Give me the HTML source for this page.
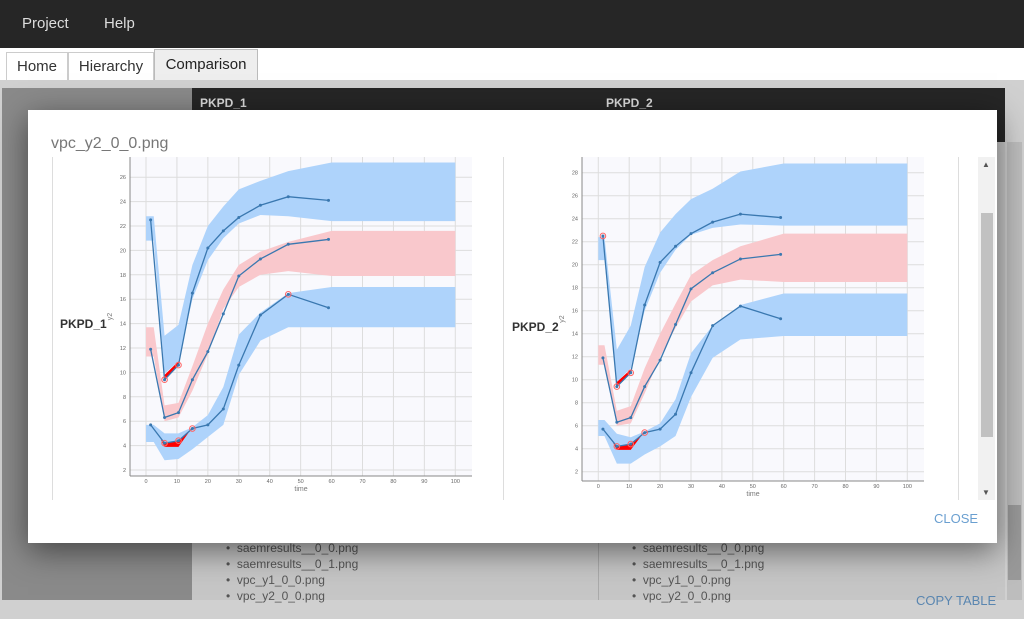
<!DOCTYPE html>
<html><head><meta charset="utf-8"><style>
body{margin:0;width:1024px;height:619px;overflow:hidden;font-family:"Liberation Sans",sans-serif;position:relative;background:#fff}
.a{position:absolute}
</style></head><body>
<div class="a" style="left:0;top:0;width:1024px;height:48px;background:#262626"></div>
<div class="a" style="left:22px;top:15px;color:#ddd;font-size:15px">Project</div>
<div class="a" style="left:104px;top:15px;color:#ddd;font-size:15px">Help</div>
<div class="a" style="left:6px;top:52px;width:60px;height:28px;border:1px solid #ccc;border-bottom:none;background:#fff;font-size:15px;color:#333;text-align:center;line-height:28px">Home</div>
<div class="a" style="left:68px;top:52px;width:84px;height:28px;border:1px solid #ccc;border-bottom:none;background:#fff;font-size:15px;color:#333;text-align:center;line-height:28px">Hierarchy</div>
<div class="a" style="left:154px;top:49px;width:102px;height:31px;border:1px solid #bbb;border-bottom:none;background:#eee;font-size:15px;color:#222;text-align:center;line-height:30px">Comparison</div>
<div class="a" style="left:0;top:80px;width:1024px;height:539px;background:#d0d0d0"></div>
<div class="a" style="left:2px;top:88px;width:190px;height:512px;background:#8a8a8a"></div>
<div class="a" style="left:192px;top:88px;width:813px;height:54px;background:#262626"></div>
<div class="a" style="left:200px;top:96px;color:#ddd;font-size:12px;font-weight:bold">PKPD_1</div>
<div class="a" style="left:606px;top:96px;color:#ddd;font-size:12px;font-weight:bold">PKPD_2</div>
<div class="a" style="left:192px;top:142px;width:813px;height:458px;background:#c6c6c6"></div>
<div class="a" style="left:598px;top:142px;width:1px;height:458px;background:#aaa"></div>
<div class="a" style="left:1007px;top:142px;width:15px;height:458px;background:#bdbdbd"></div>
<div class="a" style="left:1008px;top:505px;width:13px;height:75px;background:#999"></div>
<div class="a" style="left:226px;top:540px;color:#555;font-size:12px;line-height:16px">• &nbsp;saemresults__0_0.png<br>• &nbsp;saemresults__0_1.png<br>• &nbsp;vpc_y1_0_0.png<br>• &nbsp;vpc_y2_0_0.png</div>
<div class="a" style="left:632px;top:540px;color:#555;font-size:12px;line-height:16px">• &nbsp;saemresults__0_0.png<br>• &nbsp;saemresults__0_1.png<br>• &nbsp;vpc_y1_0_0.png<br>• &nbsp;vpc_y2_0_0.png</div>
<div class="a" style="left:916px;top:593px;color:#5a86b0;font-size:13px">COPY TABLE</div>
<div class="a" style="left:28px;top:110px;width:969px;height:433px;background:#fff;box-shadow:0 8px 30px rgba(0,0,0,.5)"></div>
<div class="a" style="left:51px;top:135px;color:#777;font-size:16px">vpc_y2_0_0.png</div>
<div class="a" style="left:52px;top:157px;width:1px;height:343px;background:#ddd"></div>
<div class="a" style="left:503px;top:157px;width:1px;height:343px;background:#ddd"></div>
<div class="a" style="left:958px;top:157px;width:1px;height:343px;background:#ddd"></div>
<div class="a" style="left:978px;top:157px;width:17px;height:343px;background:#f1f1f1"></div>
<div class="a" style="left:981px;top:213px;width:12px;height:224px;background:#c1c1c1"></div>
<div class="a" style="left:982px;top:160px;font-size:8px;color:#555">▲</div>
<div class="a" style="left:982px;top:488px;font-size:8px;color:#555">▼</div>
<div class="a" style="left:934px;top:511px;color:#6a9fd0;font-size:13px">CLOSE</div>
<div class="a" style="left:60px;top:317px;color:#333;font-size:12px;font-weight:bold">PKPD_1</div>
<div class="a" style="left:512px;top:320px;color:#333;font-size:12px;font-weight:bold">PKPD_2</div>
<svg class="a" style="left:0;top:0" width="1024" height="619" id="s"></svg>
<script>
var up=[[0,20.8,22.8],[2.5,20.8,22.8],[6,9.9,13],[10.5,10.9,13.9],[15,16,18.8],[20,19.2,22],[25,21,23.6],[30,22.2,25],[37,22.9,25.7],[46,22.8,26.5],[60,22.4,27.2],[100,22.4,27.2]];
var md=[[0,11.3,13.7],[2.5,11.3,13.7],[6,6,7.3],[10.5,6.3,7.5],[15,8.5,10.5],[20,11.5,14],[25,15.2,16.8],[30,17,18.8],[37,18,19.9],[46,18.3,20.7],[60,17.9,21.6],[100,17.9,21.6]];
var lo=[[0,4.3,5.7],[2.5,4.3,5.7],[6,2.8,5],[10.5,2.9,5],[15,3.7,5.5],[20,4.7,6.5],[25,5.7,8.8],[30,9.8,13.1],[37,12.6,14.9],[46,13.7,16.5],[60,13.7,17],[100,13.7,17]];
var up2=[[0,20.4,22.4],[2,20.4,22.4],[6,9.8,12.6],[10.5,11,14.7],[15,16,19.8],[20,19.3,22.8],[25,21.3,24.4],[30,22.6,25.7],[37,23.2,26.6],[46,23.5,28.1],[60,23.4,28.8],[100,23.4,28.8]];
var md2=[[0,11.3,13],[2,11.3,13],[6,6,7.3],[10.5,6.2,7.7],[15,8.8,11],[20,12,14],[25,14.5,16.6],[30,16.8,19.1],[37,18.2,20.4],[46,18.7,21.6],[60,18.5,22.7],[100,18.5,22.7]];
var lo2=[[0,5.1,6.5],[2,5.1,6.5],[6,2.7,5.3],[10.5,2.7,5],[15,3.5,5.5],[20,4.2,6.2],[25,5.1,8.3],[30,8.5,12.3],[37,11.9,14.7],[46,13.5,16.5],[60,13.8,17.5],[100,13.8,17.5]];
var T=[1.5,6,10.5,15,20,25,30,37,46,59];
var o1=[22.5,9.4,10.6,16.5,20.2,21.6,22.7,23.7,24.4,24.1],o2=[11.9,6.3,6.7,9.4,11.7,14.8,17.9,19.3,20.5,20.9],o3=[5.7,4.2,4.4,5.4,5.7,7,10.6,14.7,16.4,15.3];
var h='';
function chart(x0,sx,yb,vb,sy,L,Tp,R,B,ymin,ymax,lab,U,M,Lo){
 var X=function(t){return x0+t*sx},Y=function(v){return yb-(v-vb)*sy};
 h+='<rect x="'+L+'" y="'+Tp+'" width="'+(R-L)+'" height="'+(B-Tp)+'" fill="#f9f9fd"/>';
 for(var v=ymin;v<=ymax;v+=2){h+='<line x1="'+L+'" x2="'+R+'" y1="'+Y(v)+'" y2="'+Y(v)+'" stroke="#ddd" stroke-width="1"/><text x="'+(L-4)+'" y="'+(Y(v)+2)+'" font-size="5.5" fill="#666" text-anchor="end">'+v+'</text>';}
 for(var t=0;t<=100;t+=10){h+='<line y1="'+Tp+'" y2="'+B+'" x1="'+X(t)+'" x2="'+X(t)+'" stroke="#ddd"/><text x="'+X(t)+'" y="'+(B+7)+'" font-size="5.5" fill="#666" text-anchor="middle">'+t+'</text>';}
 h+='<line x1="'+L+'" x2="'+L+'" y1="'+Tp+'" y2="'+B+'" stroke="#888"/><line x1="'+L+'" x2="'+R+'" y1="'+B+'" y2="'+B+'" stroke="#888"/>';
 h+='<text x="'+((L+R)/2)+'" y="'+(B+15)+'" font-size="7" fill="#777" text-anchor="middle">time</text>';
 h+='<text x="'+(L-18)+'" y="'+((Tp+B)/2)+'" font-size="7" fill="#777" transform="rotate(-90 '+(L-18)+' '+((Tp+B)/2)+')" text-anchor="middle">y2</text>';
 function band(d,c){var p=d.map(function(a){return X(a[0])+','+Y(a[2])}).concat(d.slice().reverse().map(function(a){return X(a[0])+','+Y(a[1])}));h+='<polygon points="'+p.join(' ')+'" fill="'+c+'"/>';}
 band(U,'#aed3fb');band(M,'#f9c8cc');band(Lo,'#aed3fb');
 function pg(a){h+='<polygon points="'+a.map(function(q){return X(q[0])+','+Y(q[1])}).join(' ')+'" fill="#f00"/>';}
 pg([[6,9.4],[6,9.8],[10.5,10.9],[10.5,10.6]]);
 pg([[4.8,4.5],[6,4.2],[10.5,4.4],[15,5.4],[15,5.5],[10.5,3.9],[6,3.9]]);
 [o1,o2,o3].forEach(function(o){h+='<polyline fill="none" stroke="#3a78b0" stroke-width="1.3" points="'+T.map(function(t,i){return X(t)+','+Y(o[i])}).join(' ')+'"/>';T.forEach(function(t,i){h+='<circle cx="'+X(t)+'" cy="'+Y(o[i])+'" r="1.5" fill="#3a78b0"/>'});});
 [[6,9.4],[10.5,10.6],[6,4.2],[10.5,4.4],[15,5.4]].concat(lab?[[1.5,22.5]]:[[46,16.4]]).forEach(function(q){h+='<circle cx="'+X(q[0])+'" cy="'+Y(q[1])+'" r="2.8" fill="none" stroke="#f66" stroke-width="1"/>'});
}
chart(146,3.093,470,2,12.2,130,157,472,476,2,26,0,up,md,lo);
chart(598.3,3.09,471.7,2,11.5,582,157,924,481,2,28,1,up2,md2,lo2);
document.getElementById('s').innerHTML=h;
</script>
</body></html>
